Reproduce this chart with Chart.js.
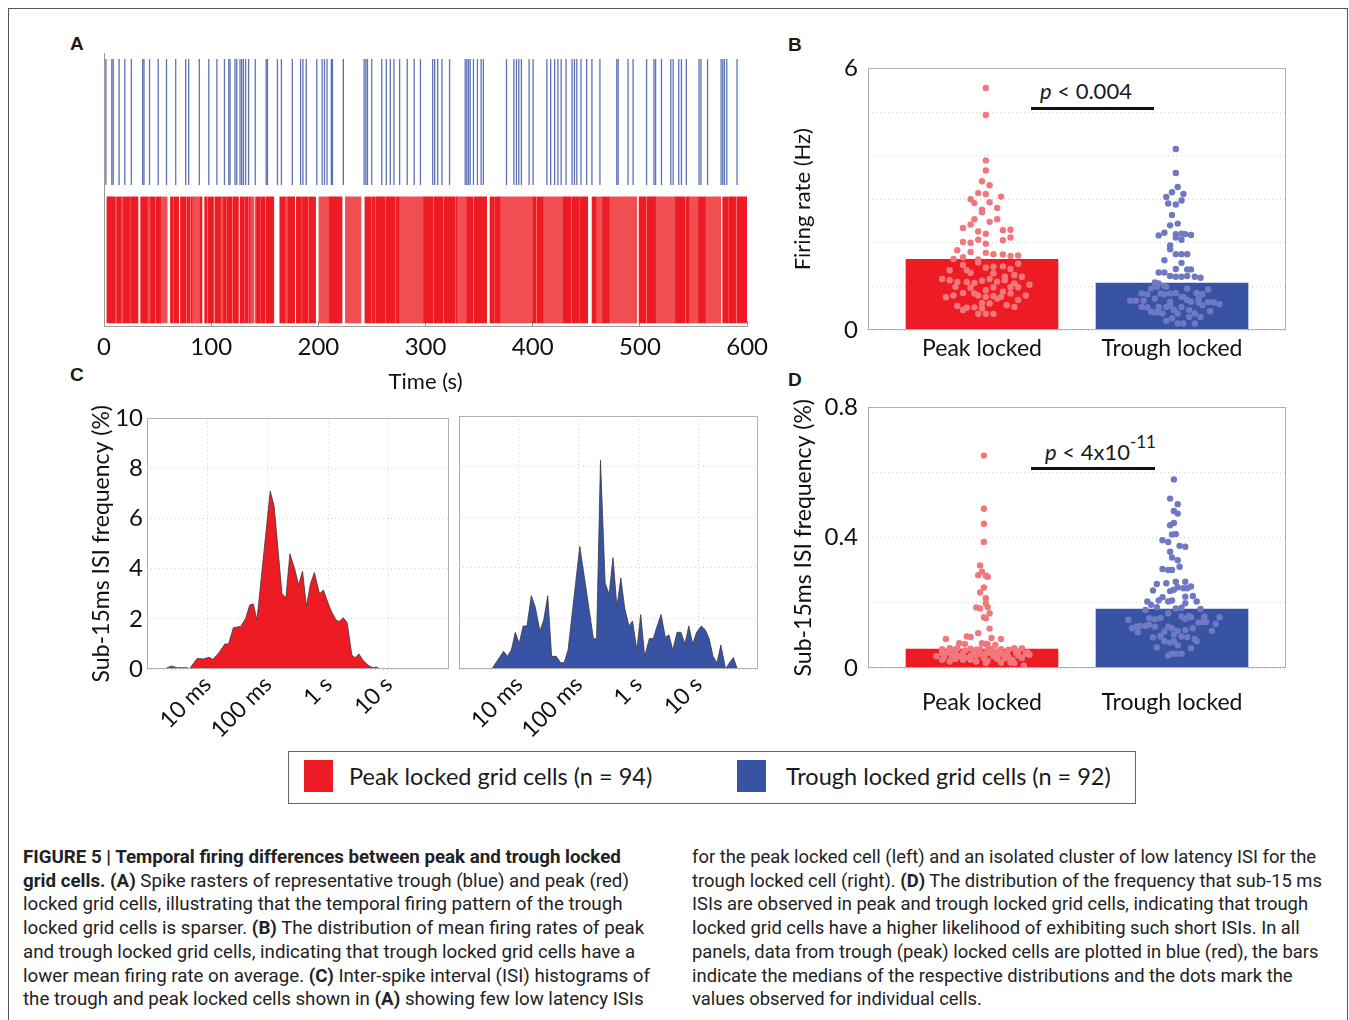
<!DOCTYPE html>
<html><head><meta charset="utf-8">
<script src="https://cdn.jsdelivr.net/npm/chart.js@4.4.0/dist/chart.umd.min.js"></script>
<style>
body{margin:0;background:#fff;width:1349px;height:1020px;overflow:hidden;position:relative;font-family:Lato,sans-serif;color:#1a1a1a;}
.frame{position:absolute;left:8px;top:8px;width:1340px;height:1040px;border:1px solid #555;box-sizing:border-box;}
canvas{position:absolute;}
.let{position:absolute;font:bold 19px "Liberation Sans",Arial,sans-serif;line-height:1;}
.ann{position:absolute;font:22px Lato,sans-serif;line-height:1;white-space:nowrap;}
.bar{position:absolute;height:3px;background:#111;}
.legend{position:absolute;left:288px;top:751px;width:848px;height:53px;border:1px solid #666;box-sizing:border-box;}
.sw{position:absolute;width:29px;height:32px;}
.lt{position:absolute;font:23.5px Lato,sans-serif;line-height:1;white-space:nowrap;}
.cap{position:absolute;top:845px;font:18px Roboto,sans-serif;line-height:23.7px;white-space:pre;transform-origin:0 0;color:#222;}
.cap b{font-weight:bold;}
</style></head>
<body>
<div class="frame"></div>
<div class="let" style="left:70px;top:34px">A</div>
<div class="let" style="left:788px;top:35px">B</div>
<div class="let" style="left:70px;top:365px">C</div>
<div class="let" style="left:788px;top:370px">D</div>

<div class="ann" style="left:1040px;top:80px"><i>p</i> &lt; 0.004</div>
<div class="bar" style="left:1031px;top:107px;width:123px"></div>
<div class="ann" style="left:1045px;top:441px"><i>p</i> &lt; 4x10<span style="font-size:17px;position:relative;top:-12px">-11</span></div>
<div class="bar" style="left:1031px;top:467px;width:124px"></div>

<div class="legend"></div>
<div class="sw" style="left:304px;top:760px;background:#ed1c24"></div>
<div class="lt" style="left:349px;top:765px">Peak locked grid cells (n = 94)</div>
<div class="sw" style="left:737px;top:760px;background:#3953a4"></div>
<div class="lt" style="left:786px;top:765px">Trough locked grid cells (n = 92)</div>

<div class="cap" id="capL" style="left:23px"><b>FIGURE 5 | Temporal firing differences between peak and trough locked</b>
<b>grid cells.</b> <b>(A)</b> Spike rasters of representative trough (blue) and peak (red)
locked grid cells, illustrating that the temporal firing pattern of the trough
locked grid cells is sparser. <b>(B)</b> The distribution of mean firing rates of peak
and trough locked grid cells, indicating that trough locked grid cells have a
lower mean firing rate on average. <b>(C)</b> Inter-spike interval (ISI) histograms of
the trough and peak locked cells shown in <b>(A)</b> showing few low latency ISIs</div>
<div class="cap" id="capR" style="left:692px">for the peak locked cell (left) and an isolated cluster of low latency ISI for the
trough locked cell (right). <b>(D)</b> The distribution of the frequency that sub-15 ms
ISIs are observed in peak and trough locked grid cells, indicating that trough
locked grid cells have a higher likelihood of exhibiting such short ISIs. In all
panels, data from trough (peak) locked cells are plotted in blue (red), the bars
indicate the medians of the respective distributions and the dots mark the
values observed for individual cells.</div>

<script>
// ---------------- DATA ----------------
// Panel A: spike times (s)
const troughSpikeTimes = [1.8,7.3,8.6,14.1,19.4,25.5,36.1,37.3,42.5,50.6,58.3,66.9,76.2,79.0,88.9,97.8,105.3,112.4,116.4,117.6,122.2,123.8,126.9,128.4,130.0,132.1,134.9,141.1,151.3,152.5,161.8,165.5,175.7,183.4,185.6,188.7,198.5,203.5,205.7,208.1,212.1,213.1,223.3,242.7,244.3,245.8,249.8,259.1,263.4,267.1,270.5,275.8,282.9,289.4,295.2,306.7,308.5,311.3,315.3,322.4,337.0,338.5,340.0,341.6,344.7,348.4,351.8,353.9,375.5,382.4,384.8,387.0,389.4,396.6,400.3,413.2,416.7,420.4,423.5,426.5,431.1,436.7,438.9,441.1,445.0,450.3,455.2,462.7,478.4,479.7,488.9,493.6,506.2,513.1,514.6,520.1,528.8,531.0,536.2,538.7,543.3,555.1,556.9,563.1,575.7,577.3,578.8,581.0,590.6];
// peak locked cell: dense firing periods [start, end] (s)
const peakDenseFiring = [[2.7,10.7],[11.7,15.7],[18.1,23.9],[24.7,31.7],[34.2,40.4],[43.5,47.7],[48.5,52.8],[62,64.1],[64.9,69.7],[71.3,76.5],[77.3,80.2],[81.0,82.1],[89.8,91.4],[93.9,96.2],[97.0,102.2],[103.4,108.4],[111.5,114.2],[115,119.5],[120.3,125.4],[126.9,130.5],[131.2,134.2],[135,136.2],[142.4,146],[146.8,150.3],[151.1,158.4],[164,168.6],[171.7,177.9],[179.4,184.3],[185.1,190.6],[191.4,197.4],[210.3,222.1],[243.4,249.5],[250.3,253.2],[254,262.5],[263.3,271.7],[272.5,275.2],[298.3,307.2],[308,316.4],[317.2,327.3],[328.1,329.2],[338.5,344.3],[345.1,357],[360.1,364.3],[365.1,369.4],[400.3,403],[403.8,409.5],[428.5,435.6],[436.4,443.6],[444.4,451.3],[455.3,459],[465.2,471.3],[499.2,505.6],[506.4,514.6],[533.1,542],[542.8,545.5],[554.8,561],[577.2,582.6],[583.4,589.6],[590.4,599.6]];
// peak locked cell: sparser firing periods [start, end] (s)
const peakSparseFiring = [[15.7,18.1],[40.4,43.5],[52.8,58.9],[82.1,89.8],[108.4,111.5],[136.2,139.9],[141.1,142.4],[168.6,171.7],[200.5,210.3],[225.2,239.7],[275.2,298.3],[329.2,338.5],[369.4,400.3],[409.5,428.1],[459,465.2],[471.3,497],[514.6,533.1],[545.5,554.8],[561,575.4]];
const timeTicks = [0,100,200,300,400,500,600];

// Panel B / D categories and medians
const groups = ['Peak locked','Trough locked'];
const medianRate = [1.62, 1.075];
const medianSub15 = [0.058, 0.181];

// Panel B: individual cells [x position, firing rate Hz]
const ratePeak = [[1.02,5.55],[1.02,4.93],[1.02,3.89],[1.02,3.66],[1.00,3.41],[1.04,3.32],[0.98,3.14],[1.02,3.12],[1.10,3.06],[0.94,3.00],[0.96,2.91],[1.04,2.93],[1.08,2.80],[1.00,2.76],[1.00,2.70],[0.96,2.54],[1.08,2.54],[1.04,2.48],[0.94,2.42],[0.90,2.34],[1.15,2.30],[0.98,2.26],[1.02,2.21],[1.11,2.06],[1.15,2.12],[0.90,2.02],[0.94,2.00],[0.98,2.07],[1.02,1.98],[0.94,1.79],[1.02,1.77],[1.06,1.74],[1.11,1.73],[1.15,1.70],[1.19,1.71],[0.85,1.63],[0.90,1.67],[0.98,1.62],[0.98,1.55],[0.90,1.49],[0.94,1.31],[1.02,1.43],[1.06,1.45],[1.11,1.46],[1.15,1.40],[1.17,1.26],[1.21,1.22],[0.79,1.17],[0.83,1.14],[0.87,1.10],[0.92,1.10],[0.96,1.08],[1.00,1.13],[1.04,1.17],[1.08,1.11],[1.12,1.14],[1.17,1.07],[1.25,1.04],[0.94,0.97],[1.02,0.91],[1.06,0.98],[1.15,0.98],[1.19,0.98],[0.85,0.79],[0.81,0.75],[0.90,0.85],[0.98,0.79],[1.06,0.78],[1.08,0.72],[1.10,0.76],[1.23,0.79],[0.87,0.55],[0.92,0.51],[0.96,0.52],[1.00,0.62],[1.04,0.61],[1.13,0.57],[1.17,0.53],[0.98,0.37],[1.02,0.37],[1.06,0.37],[0.92,1.37],[0.86,0.99],[1.11,0.88],[1.19,0.69],[0.96,0.84],[1.02,0.76],[1.12,1.22],[0.90,0.46],[1.00,0.50],[1.15,0.84],[1.06,1.30],[0.83,1.37],[1.19,1.52],[0.87,1.83],[1.11,2.29]];
const rateTrough = [[2.02,4.15],[2.02,3.60],[2.03,3.28],[2.00,3.16],[1.97,3.05],[2.06,3.12],[2.05,2.97],[1.98,2.90],[2.02,2.88],[2.00,2.64],[2.03,2.44],[1.99,2.40],[1.93,2.17],[1.96,2.23],[2.02,2.20],[2.05,2.21],[2.07,2.20],[2.10,2.18],[2.02,2.12],[2.05,2.07],[1.99,1.94],[1.99,1.85],[2.02,1.74],[2.05,1.74],[2.08,1.74],[1.96,1.60],[2.05,1.54],[2.02,1.40],[2.08,1.39],[2.10,1.39],[1.93,1.32],[1.96,1.32],[1.99,1.24],[2.02,1.22],[2.05,1.22],[2.08,1.24],[2.12,1.22],[2.15,1.20],[1.91,1.09],[1.93,1.07],[1.96,1.01],[1.89,0.95],[1.91,1.03],[1.97,0.99],[2.08,0.95],[2.19,0.93],[1.84,0.84],[1.87,0.82],[1.96,0.82],[1.99,0.84],[2.02,0.85],[2.05,0.76],[2.08,0.69],[2.13,0.85],[2.16,0.82],[1.78,0.67],[1.81,0.67],[1.91,0.72],[1.99,0.65],[2.10,0.65],[2.14,0.63],[2.19,0.64],[2.22,0.63],[2.25,0.59],[1.84,0.53],[1.87,0.52],[1.93,0.53],[1.97,0.53],[1.99,0.55],[2.05,0.53],[2.16,0.57],[1.89,0.42],[1.91,0.40],[1.93,0.42],[2.03,0.38],[2.09,0.46],[2.12,0.38],[2.00,0.27],[1.97,0.21],[2.03,0.15],[2.06,0.15],[2.09,0.30],[2.15,0.30],[2.12,0.15],[2.20,0.43],[1.94,0.84],[1.85,0.67],[2.06,0.76],[1.92,0.99],[2.14,0.72],[2.01,0.46],[1.95,0.38]];

// Panel C: ISI histograms, x = log10(ISI / s), y = percent
const isiPeakLog = [-2.71,-2.595,-2.50,-2.33,-2.30,-2.17,-2.07,-1.97,-1.91,-1.81,-1.71,-1.65,-1.57,-1.45,-1.37,-1.30,-1.24,-1.18,-0.96,-0.895,-0.765,-0.70,-0.634,-0.556,-0.49,-0.425,-0.36,-0.294,-0.229,-0.144,-0.078,-0.013,0.052,0.131,0.183,0.248,0.314,0.392,0.444,0.51,0.575,0.66,0.739,0.804,0.85];
const isiPeakPct = [0,0.12,0.05,0.05,0,0.42,0.40,0.47,0.38,0.65,1.0,1.0,1.65,1.7,2.0,2.55,2.6,1.95,7.1,6.5,3.0,2.85,4.6,4.0,3.35,3.9,2.5,3.4,3.85,3.0,3.15,2.7,2.3,1.95,1.9,2.05,1.85,0.55,0.45,0.6,0.35,0.15,0.05,0.08,0];
const isiTroughLog = [-2.451,-2.255,-2.19,-2.124,-2.059,-1.993,-1.928,-1.863,-1.791,-1.725,-1.647,-1.582,-1.516,-1.451,-1.373,-1.301,-1.242,-1.176,-0.98,-0.752,-0.699,-0.634,-0.556,-0.49,-0.425,-0.359,-0.294,-0.229,-0.157,-0.098,-0.026,0.039,0.105,0.183,0.248,0.314,0.379,0.451,0.51,0.575,0.647,0.712,0.778,0.843,0.908,0.974,1.052,1.118,1.183,1.248,1.314,1.379,1.458,1.523,1.588,1.654];
const isiTroughPct = [0,0.7,0.5,0.75,1.45,1.0,1.7,1.7,2.9,2.45,1.5,1.95,2.9,0.5,0.5,0.25,0.25,0.75,4.85,1.2,1.2,8.25,3.4,2.95,4.4,2.45,3.6,2.4,1.7,1.9,0.75,2.15,0.5,1.2,1.2,1.7,2.15,1.25,1.35,0.75,1.45,1.45,1.0,1.7,1.0,1.45,1.7,1.55,1.2,0.5,0.25,0.95,0,0.25,0.45,0];
const isiTickPos = [-2,-1,0,1];
const isiTickLabels = ['10 ms','100 ms','1 s','10 s'];

// Panel D: individual cells [x position, sub-15 ms ISI frequency %]
const subPeak = [[1.01,0.652],[1.01,0.489],[1.01,0.443],[1.01,0.387],[0.99,0.315],[0.98,0.285],[1.00,0.296],[1.03,0.280],[1.02,0.283],[0.99,0.232],[1.01,0.247],[1.02,0.214],[1.02,0.199],[0.97,0.186],[0.99,0.183],[1.03,0.187],[1.04,0.168],[1.01,0.156],[1.02,0.153],[1.04,0.121],[0.98,0.107],[0.92,0.097],[0.94,0.095],[0.81,0.089],[1.05,0.092],[1.10,0.089],[0.88,0.076],[0.91,0.074],[1.00,0.076],[1.02,0.074],[1.03,0.073],[1.07,0.071],[0.79,0.058],[0.83,0.061],[0.85,0.056],[0.87,0.061],[0.94,0.059],[0.97,0.056],[0.99,0.058],[1.03,0.056],[1.07,0.051],[1.10,0.058],[1.14,0.056],[1.17,0.061],[1.21,0.061],[0.79,0.046],[0.82,0.048],[0.86,0.044],[0.90,0.046],[0.96,0.044],[0.98,0.046],[1.02,0.044],[1.05,0.046],[1.10,0.044],[1.13,0.046],[1.18,0.046],[1.23,0.044],[1.25,0.041],[0.76,0.036],[0.80,0.034],[0.84,0.038],[0.88,0.036],[0.91,0.031],[0.97,0.038],[1.00,0.041],[1.06,0.036],[1.09,0.041],[1.14,0.034],[1.19,0.038],[1.21,0.031],[0.83,0.020],[0.90,0.025],[0.94,0.025],[1.03,0.022],[1.10,0.017],[1.15,0.017],[1.17,0.015],[1.22,0.007],[0.86,0.028],[1.08,0.028],[0.79,0.025],[1.16,0.025],[0.97,0.020],[1.02,0.015],[1.12,0.030],[0.91,0.054],[1.05,0.058],[1.19,0.051],[1.24,0.048],[0.86,0.051],[0.94,0.038],[1.01,0.030]];
const subTrough = [[2.01,0.579],[1.99,0.520],[2.03,0.503],[2.01,0.482],[2.03,0.474],[2.01,0.445],[1.99,0.438],[2.00,0.410],[2.02,0.411],[1.95,0.392],[1.98,0.387],[2.04,0.375],[2.07,0.372],[1.99,0.357],[2.00,0.339],[2.03,0.331],[2.04,0.311],[1.95,0.304],[1.98,0.301],[2.00,0.301],[1.92,0.258],[2.02,0.265],[2.07,0.265],[1.90,0.238],[1.99,0.236],[2.01,0.240],[2.03,0.248],[2.06,0.245],[2.08,0.245],[2.10,0.250],[1.95,0.217],[1.98,0.204],[2.07,0.219],[2.11,0.221],[1.87,0.204],[1.89,0.194],[1.93,0.207],[2.00,0.207],[2.13,0.204],[1.92,0.187],[2.02,0.183],[2.05,0.185],[2.15,0.181],[1.98,0.168],[1.94,0.154],[2.05,0.158],[2.09,0.160],[2.10,0.156],[1.77,0.148],[1.91,0.150],[2.07,0.151],[2.14,0.140],[2.16,0.141],[2.18,0.141],[2.25,0.156],[2.23,0.135],[1.81,0.127],[1.83,0.129],[1.86,0.129],[1.88,0.133],[1.98,0.127],[1.79,0.122],[2.00,0.122],[2.11,0.122],[1.82,0.110],[1.96,0.112],[2.03,0.114],[2.07,0.117],[2.21,0.114],[1.94,0.097],[2.01,0.102],[2.05,0.097],[2.08,0.095],[1.90,0.094],[2.12,0.089],[1.96,0.082],[1.99,0.078],[2.01,0.082],[1.92,0.063],[2.03,0.070],[2.10,0.061],[1.98,0.038],[2.00,0.044],[2.02,0.044],[2.05,0.044],[1.94,0.099],[1.91,0.127],[2.13,0.082],[2.17,0.158],[1.86,0.178],[1.97,0.260],[1.88,0.153],[2.07,0.199]];

// ---------------- STYLE / HELPERS ----------------
const RED='#ed1c24', BLUE='#3953a4', DOT_RED='#f2777c', DOT_BLUE='#6f79c2';
Chart.defaults.font.family = 'Lato, sans-serif';
Chart.defaults.color = '#1a1a1a';
Chart.defaults.animation = false;
Chart.defaults.plugins.legend.display = false;
Chart.defaults.plugins.tooltip.enabled = false;

const framePlugin = {id:'frame', afterDatasetsDraw(chart,args,opts){ if(!opts || !opts.on) return;
  const {ctx, chartArea:a} = chart; ctx.save(); ctx.strokeStyle = opts.color || '#b0b0b0'; ctx.lineWidth = 1;
  ctx.strokeRect(Math.round(a.left)+0.5, Math.round(a.top)+0.5, Math.round(a.right-a.left)-1, Math.round(a.bottom-a.top)-1); ctx.restore(); }};
Chart.register(framePlugin);

function mk(left, top, w, h, cfg){
  const c = document.createElement('canvas'); c.width = w; c.height = h;
  c.style.left = left+'px'; c.style.top = top+'px'; c.style.width = w+'px'; c.style.height = h+'px';
  document.body.appendChild(c); cfg.options.responsive = false; cfg.options.maintainAspectRatio = false;
  cfg.options.layout = Object.assign({autoPadding:false}, cfg.options.layout || {});
  return new Chart(c, cfg);
}
const fix = v => s => { if (s.isHorizontal()) s.height = v; else s.width = v; };
const dotted = {color:'#cfcfcf', lineWidth:1};

// ---------------- PANEL A ----------------
mk(40, 40, 740, 355, {type:'bar', data:{datasets:[
  {type:'bar', indexAxis:'y', grouped:false, data: peakDenseFiring.map(s=>({x:s, y:0.242})), backgroundColor: RED, barThickness:126, borderWidth:0},
  {type:'bar', indexAxis:'y', grouped:false, data: peakSparseFiring.map(s=>({x:s, y:0.242})), backgroundColor: 'rgba(237,28,36,0.78)', barThickness:126, borderWidth:0},
  {type:'scatter', indexAxis:'x', data: troughSpikeTimes.map(t=>({x:t, y:0.747})), pointStyle:'line', rotation:90, pointRadius:63, borderColor:'rgba(58,84,166,0.82)', borderWidth:1.3, backgroundColor:'rgba(58,84,166,0.82)'}
]}, options:{ layout:{padding:{left:0, top:13, right:29, bottom:0}},
  scales:{
    x:{type:'linear', min:0, max:600, offset:false, afterFit: fix(69),
       afterBuildTicks: s => { s.ticks = timeTicks.map(v=>({value:v})); },
       ticks:{font:{size:24}, padding:12, color:'#111', maxRotation:0},
       grid:{display:true, drawOnChartArea:false, drawTicks:true, tickLength:-5, color:'#999', offset:false},
       border:{display:true, color:'#999'},
       title:{display:true, text:'Time (s)', font:{size:22}, padding:0, color:'#111'}},
    y:{type:'linear', min:0, max:1, offset:false, afterFit: fix(64), ticks:{display:false}, grid:{display:false}, border:{display:true, color:'#999'}}
  }}});

// ---------------- PANEL B ----------------
const bW = Math.round(0.8/2.2*418);
mk(780, 44, 520, 326, {type:'bar', data:{datasets:[
  {type:'scatter', data: ratePeak.map(p=>({x:p[0], y:p[1]})), pointRadius:3.2, backgroundColor:DOT_RED, borderWidth:0, order:0},
  {type:'scatter', data: rateTrough.map(p=>({x:p[0], y:p[1]})), pointRadius:3.2, backgroundColor:DOT_BLUE, borderWidth:0, order:0},
  {type:'bar', data: medianRate.map((v,i)=>({x:i+1, y:v})), backgroundColor:[RED, BLUE], barThickness:bW, borderWidth:0, order:1}
]}, options:{ layout:{padding:{left:0, top:0, right:14, bottom:0}}, plugins:{frame:{on:true}},
  scales:{
    x:{type:'linear', min:0.4, max:2.6, offset:false, afterFit: fix(40),
       afterBuildTicks: s => { s.ticks = groups.map((g,i)=>({value:i+1})); },
       ticks:{font:{size:23}, padding:5, color:'#111', maxRotation:0, callback: v => groups[Math.round(v)-1]},
       grid:{display:false, drawTicks:false, offset:false}, border:{display:false}},
    y:{type:'linear', min:0, max:6, afterFit: fix(88),
       ticks:{stepSize:1, font:{size:24}, padding:10, color:'#111', callback: v => (v===0||v===6) ? String(v) : ''},
       grid:{...dotted, drawTicks:false}, border:{display:false, dash:[1,3]},
       title:{display:true, text:'Firing rate (Hz)', font:{size:22}, padding:{top:10,bottom:0}, color:'#111'}}
  }}});

// ---------------- PANEL C ----------------
function isiChart(left, w, areaLeft, areaRight, xs, ys, color, showY){
  return mk(left, 400, w, 345, {type:'line', data:{datasets:[
    {data: xs.map((x,i)=>({x:x, y:ys[i]})), fill:'origin', backgroundColor: color, borderColor:'#3a3a3a', borderWidth:0.8, pointRadius:0, tension:0}
  ]}, options:{ layout:{padding:{left:0, top:16, right: w-areaRight, bottom:0}}, plugins:{frame:{on:true}},
    scales:{
      x:{type:'linear', min:-3, max:2, afterFit: fix(76),
         afterBuildTicks: s => { s.ticks = isiTickPos.map(v=>({value:v})); },
         ticks:{font:{size:23}, padding:2, color:'#111', minRotation:45, maxRotation:45, autoSkip:false,
                callback: v => isiTickLabels[isiTickPos.indexOf(v)]},
         grid:{...dotted, drawTicks:false}, border:{display:false, dash:[1,3]}},
      y:{type:'linear', min:0, max:10, afterFit: fix(areaLeft),
         ticks:{display:showY, stepSize:2, font:{size:24}, padding:4, color:'#111'},
         grid:{...dotted, drawTicks:false}, border:{display:false, dash:[1,3]},
         title:{display:showY, text:'Sub-15ms ISI frequency (%)', font:{size:23}, padding:{top:28,bottom:0}, color:'#111'}}
    }}});
}
isiChart(60, 395, 87, 389, isiPeakLog, isiPeakPct, RED, true);
isiChart(455, 315, 4, 303, isiTroughLog, isiTroughPct, BLUE, false);

// ---------------- PANEL D ----------------
mk(780, 383, 520, 352, {type:'bar', data:{datasets:[
  {type:'scatter', data: subPeak.map(p=>({x:p[0], y:p[1]})), pointRadius:3.2, backgroundColor:DOT_RED, borderWidth:0, order:0},
  {type:'scatter', data: subTrough.map(p=>({x:p[0], y:p[1]})), pointRadius:3.2, backgroundColor:DOT_BLUE, borderWidth:0, order:0},
  {type:'bar', data: medianSub15.map((v,i)=>({x:i+1, y:v})), backgroundColor:[RED, BLUE], barThickness:bW, borderWidth:0, order:1}
]}, options:{ layout:{padding:{left:0, top:0, right:14, bottom:0}}, plugins:{frame:{on:true}},
  scales:{
    x:{type:'linear', min:0.4, max:2.6, offset:false, afterFit: fix(67),
       afterBuildTicks: s => { s.ticks = groups.map((g,i)=>({value:i+1})); },
       ticks:{font:{size:23}, padding:21, color:'#111', maxRotation:0, callback: v => groups[Math.round(v)-1]},
       grid:{display:false, drawTicks:false, offset:false}, border:{display:false}},
    y:{type:'linear', min:0, max:0.8, afterFit: fix(88),
       ticks:{stepSize:0.2, font:{size:24}, padding:10, color:'#111',
              callback: v => { const k = Math.round(v*10); return k % 4 === 0 ? (k===0 ? '0' : (k/10).toFixed(1)) : ''; }},
       grid:{...dotted, drawTicks:false}, border:{display:false, dash:[1,3]},
       title:{display:true, text:'Sub-15ms ISI frequency (%)', font:{size:23}, padding:{top:10,bottom:0}, color:'#111'}}
  }}});

// ---------------- caption width fitting ----------------
function fitCol(id, target){
  const el = document.getElementById(id);
  const w = el.getBoundingClientRect().width;
  el.style.transform = 'scaleX(' + (target / w) + ')';
}
fitCol('capL', 627);
fitCol('capR', 630);
</script>
</body></html>
